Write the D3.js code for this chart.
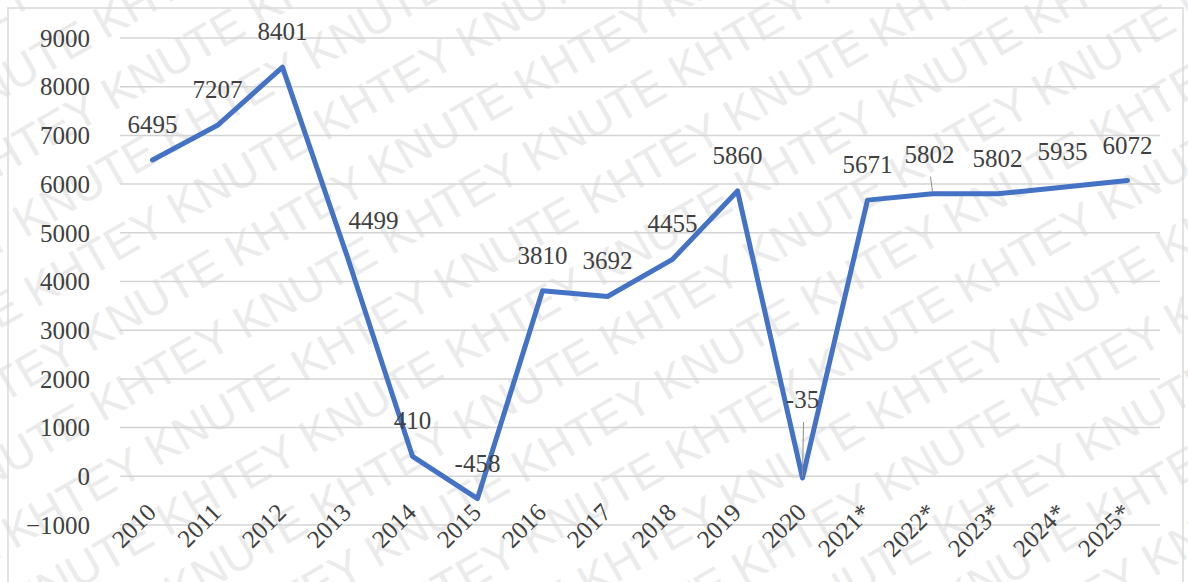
<!DOCTYPE html>
<html>
<head>
<meta charset="utf-8">
<script src="https://cdn.jsdelivr.net/npm/d3@7"></script>
<style>
  body { margin: 0; background: #fff; }
  svg { display: block; }
</style>
</head>
<body>
<svg id="chart" width="1188" height="582"></svg>
<script>
var WIDTH = 1188, HEIGHT = 582;

var years = ["2010", "2011", "2012", "2013", "2014", "2015", "2016", "2017",
             "2018", "2019", "2020", "2021*", "2022*", "2023*", "2024*", "2025*"];
var values = [6495, 7207, 8401, 4499, 410, -458, 3810, 3692,
              4455, 5860, -35, 5671, 5802, 5802, 5935, 6072];
var yTicks = [-1000, 0, 1000, 2000, 3000, 4000, 5000, 6000, 7000, 8000, 9000];

var LINE_COLOR = "#4472c4";
var TEXT_COLOR = "#404040";
var GRID_COLOR = "#d4d4d4";
var FONT = "'Liberation Serif', 'Times New Roman', serif";

var svg = d3.select("#chart");

// watermark behind everything
var wm = svg.append("g")
    .attr("transform", "rotate(-30," + WIDTH / 2 + "," + HEIGHT / 2 + ")");
var wmText = d3.range(14).map(function () { return "KHTEY KNUTE"; }).join(" ");
d3.range(-14, 15).forEach(function (i) {
    wm.append("text")
        .attr("x", -900 + (i % 2) * 140)
        .attr("y", HEIGHT / 2 + i * 66)
        .attr("font-family", "'Liberation Sans', Arial, sans-serif")
        .attr("font-size", 46)
        .attr("fill", "#ebebeb")
        .text(wmText);
});

// outer border
svg.append("rect")
    .attr("x", 8).attr("y", 8)
    .attr("width", 1175).attr("height", 600)
    .attr("fill", "none")
    .attr("stroke", "#d9d9d9")
    .attr("stroke-width", 1.5);

var x = d3.scalePoint()
    .domain(years)
    .range([120, 1160])
    .padding(0.5);

var y = d3.scaleLinear()
    .domain([-1000, 9000])
    .range([525, 38]);

// gridlines
svg.append("g")
    .selectAll("line")
    .data(yTicks)
    .join("line")
    .attr("x1", 120).attr("x2", 1160)
    .attr("y1", function (d) { return y(d); })
    .attr("y2", function (d) { return y(d); })
    .attr("stroke", GRID_COLOR)
    .attr("stroke-width", 1.5);

// y axis labels
var yAxis = d3.axisLeft(y)
    .tickValues(yTicks)
    .tickFormat(d3.format("d"))
    .tickSize(0)
    .tickPadding(0);
var yg = svg.append("g")
    .attr("transform", "translate(90,0)")
    .call(yAxis);
yg.select(".domain").remove();
yg.selectAll("text")
    .attr("font-family", FONT)
    .attr("font-size", 25)
    .attr("fill", TEXT_COLOR)
    .attr("dy", "0.33em");

// x axis labels, rotated
svg.append("g")
    .selectAll("text")
    .data(years)
    .join("text")
    .attr("transform", function (d) {
        return "translate(" + (x(d) + 5) + "," + 514 + ") rotate(-45)";
    })
    .attr("text-anchor", "end")
    .attr("font-family", FONT)
    .attr("font-size", 25)
    .attr("fill", TEXT_COLOR)
    .text(function (d) { return d; });

// the line
var line = d3.line()
    .x(function (d, i) { return x(years[i]); })
    .y(function (d) { return y(d); });

svg.append("path")
    .datum(values)
    .attr("d", line)
    .attr("fill", "none")
    .attr("stroke", LINE_COLOR)
    .attr("stroke-width", 5)
    .attr("stroke-linejoin", "round")
    .attr("stroke-linecap", "round");

// some labels were dragged away from their points in the original
var nudges = {
    "2013": {dx: 26, dy: -28},
    "2020": {dx: 0, dy: -70, leader: true},
    "2022*": {dx: -3, dy: -31, leader: true}
};

values.forEach(function (v, i) {
    var key = years[i];
    var n = nudges[key] || {dx: 0, dy: -27};
    var px = x(key), py = y(v);
    if (n.leader) {
        svg.append("line")
            .attr("x1", px).attr("y1", py - 2)
            .attr("x2", px + n.dx + 1).attr("y2", py + n.dy + 14)
            .attr("stroke", "#8c8c8c")
            .attr("stroke-width", 1);
    }
    svg.append("text")
        .attr("x", px + n.dx)
        .attr("y", py + n.dy)
        .attr("text-anchor", "middle")
        .attr("font-family", FONT)
        .attr("font-size", 25)
        .attr("fill", TEXT_COLOR)
        .text(v);
});
</script>
</body>
</html>
